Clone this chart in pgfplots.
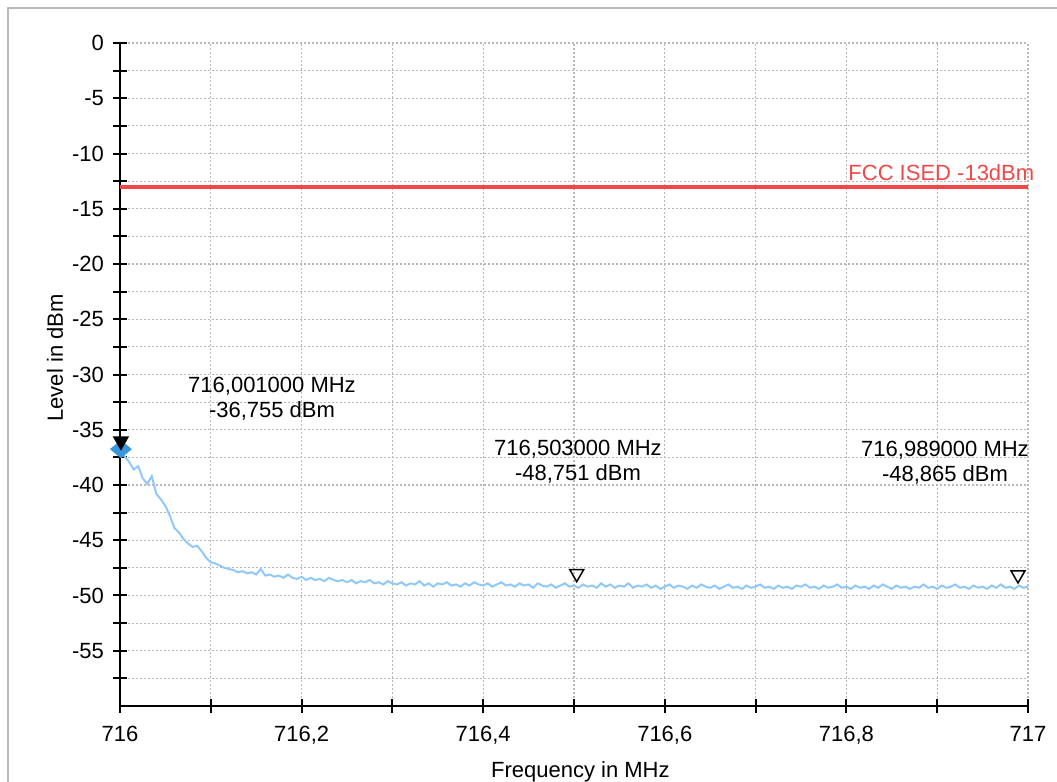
\documentclass[border=0pt]{standalone}
\usepackage{fontspec}
\setmainfont{Liberation Sans}
\usepackage{pgfplots}
\pgfplotsset{compat=1.18}
\usepackage{pgfplotstable}
\definecolor{trace}{RGB}{145,200,250}
\definecolor{limitred}{RGB}{240,72,72}
\definecolor{mkblue}{RGB}{55,150,220}
\definecolor{gridgray}{RGB}{185,185,185}
\definecolor{framegray}{RGB}{185,185,185}
\pgfdeclareplotmark{dtri}{%
  \pgfpathmoveto{\pgfqpoint{0pt}{0pt}}%
  \pgfpathlineto{\pgfqpoint{-0.866\pgfplotmarksize}{1.5\pgfplotmarksize}}%
  \pgfpathlineto{\pgfqpoint{0.866\pgfplotmarksize}{1.5\pgfplotmarksize}}%
  \pgfpathclose\pgfusepathqstroke}
\pgfdeclareplotmark{dtrif}{%
  \pgfpathmoveto{\pgfqpoint{0pt}{0pt}}%
  \pgfpathlineto{\pgfqpoint{-0.866\pgfplotmarksize}{1.5\pgfplotmarksize}}%
  \pgfpathlineto{\pgfqpoint{0.866\pgfplotmarksize}{1.5\pgfplotmarksize}}%
  \pgfpathclose\pgfusepathqfillstroke}
\pgfdeclareplotmark{bdia}{%
  \pgfpathmoveto{\pgfqpoint{0pt}{0.82\pgfplotmarksize}}%
  \pgfpathlineto{\pgfqpoint{\pgfplotmarksize}{0pt}}%
  \pgfpathlineto{\pgfqpoint{0pt}{-0.82\pgfplotmarksize}}%
  \pgfpathlineto{\pgfqpoint{-\pgfplotmarksize}{0pt}}%
  \pgfpathclose\pgfusepathqfill}
\pgfplotstableread{
x y
716.000 -36.8
716.005 -37.4
716.010 -37.9
716.015 -38.6
716.020 -38.3
716.025 -39.4
716.030 -39.9
716.035 -39.2
716.040 -40.8
716.045 -41.3
716.050 -41.9
716.055 -42.8
716.060 -43.9
716.065 -44.3
716.070 -44.9
716.075 -45.3
716.080 -45.6
716.085 -45.5
716.090 -46.0
716.095 -46.6
716.100 -47.0
716.105 -47.1
716.110 -47.3
716.115 -47.5
716.120 -47.6
716.125 -47.7
716.130 -47.9
716.135 -47.8
716.140 -48.0
716.145 -47.9
716.150 -48.1
716.155 -47.6
716.160 -48.2
716.165 -48.1
716.170 -48.3
716.175 -48.2
716.180 -48.4
716.185 -48.1
716.190 -48.4
716.195 -48.5
716.200 -48.3
716.205 -48.6
716.210 -48.4
716.215 -48.6
716.220 -48.5
716.225 -48.7
716.230 -48.4
716.235 -48.6
716.240 -48.7
716.245 -48.6
716.250 -48.8
716.255 -48.6
716.260 -48.9
716.265 -48.7
716.270 -48.8
716.275 -48.6
716.280 -48.9
716.285 -48.8
716.290 -49.0
716.295 -48.7
716.300 -48.9
716.305 -49.0
716.310 -48.8
716.315 -49.1
716.320 -48.9
716.325 -49.0
716.330 -48.7
716.335 -49.1
716.340 -48.9
716.345 -49.2
716.350 -48.9
716.355 -49.0
716.360 -48.8
716.365 -49.1
716.370 -49.0
716.375 -49.2
716.380 -48.9
716.385 -49.1
716.390 -48.8
716.395 -49.0
716.400 -49.1
716.405 -48.9
716.410 -49.2
716.415 -49.0
716.420 -48.8
716.425 -49.1
716.430 -49.0
716.435 -49.2
716.440 -48.9
716.445 -49.1
716.450 -49.0
716.455 -49.3
716.460 -48.9
716.465 -49.1
716.470 -49.2
716.475 -49.0
716.480 -49.3
716.485 -49.1
716.490 -48.9
716.495 -49.2
716.500 -49.1
716.505 -49.3
716.510 -49.0
716.515 -49.2
716.520 -49.1
716.525 -49.3
716.530 -48.9
716.535 -49.2
716.540 -49.0
716.545 -49.3
716.550 -49.1
716.555 -49.2
716.560 -48.9
716.565 -49.3
716.570 -49.1
716.575 -49.2
716.580 -49.0
716.585 -49.3
716.590 -49.1
716.595 -49.4
716.600 -49.2
716.605 -49.0
716.610 -49.3
716.615 -49.1
716.620 -49.2
716.625 -49.4
716.630 -49.1
716.635 -49.3
716.640 -49.0
716.645 -49.2
716.650 -49.3
716.655 -49.1
716.660 -49.4
716.665 -49.2
716.670 -49.0
716.675 -49.3
716.680 -49.2
716.685 -49.4
716.690 -49.1
716.695 -49.3
716.700 -49.2
716.705 -49.0
716.710 -49.3
716.715 -49.2
716.720 -49.4
716.725 -49.1
716.730 -49.3
716.735 -49.2
716.740 -49.4
716.745 -49.1
716.750 -49.2
716.755 -49.0
716.760 -49.3
716.765 -49.2
716.770 -49.4
716.775 -49.1
716.780 -49.3
716.785 -49.2
716.790 -49.0
716.795 -49.3
716.800 -49.2
716.805 -49.4
716.810 -49.1
716.815 -49.3
716.820 -49.2
716.825 -49.4
716.830 -49.1
716.835 -49.3
716.840 -49.0
716.845 -49.2
716.850 -49.4
716.855 -49.1
716.860 -49.3
716.865 -49.2
716.870 -49.4
716.875 -49.2
716.880 -49.3
716.885 -49.0
716.890 -49.3
716.895 -49.2
716.900 -49.4
716.905 -49.1
716.910 -49.3
716.915 -49.2
716.920 -49.0
716.925 -49.3
716.930 -49.2
716.935 -49.4
716.940 -49.1
716.945 -49.3
716.950 -49.2
716.955 -49.4
716.960 -49.1
716.965 -49.3
716.970 -49.0
716.975 -49.3
716.980 -49.2
716.985 -49.4
716.990 -49.1
716.995 -49.3
717.000 -49.2
}\tracedata
\begin{document}
\begin{tikzpicture}[font=\fontsize{11}{12.5}\selectfont]
\clip (-60pt,-38pt) rectangle (468.5pt,353pt);
\draw[framegray, line width=1pt] (-56pt,-60pt) -- (-56pt,349pt) -- (480pt,349pt);
\begin{axis}[
  at={(0,0)}, anchor=south west,
  scale only axis, width=454pt, height=331.5pt,
  xmin=716, xmax=717, ymin=-60, ymax=0,
  axis x line=bottom, axis y line=left,
  axis line style={-, line width=1pt, black},
  xtick={716,716.2,716.4,716.6,716.8,717},
  minor xtick={716.1,716.3,716.5,716.7,716.9},
  ytick={-55,-50,-45,-40,-35,-30,-25,-20,-15,-10,-5,0},
  minor ytick={-57.5,-52.5,-47.5,-42.5,-37.5,-32.5,-27.5,-22.5,-17.5,-12.5,-7.5,-2.5},
  tick align=center,
  major tick length=7pt, minor tick length=7pt,
  every tick/.style={black, line width=1pt},
  grid=both,
  major grid style={gridgray, line width=0.6pt, dash pattern=on 1pt off 1pt},
  minor grid style={gridgray, line width=0.6pt, dash pattern=on 1pt off 1pt},
  /pgf/number format/assume math mode=true,
  /pgf/number format/use comma,
  /pgf/number format/1000 sep={},
  xticklabel style={anchor=north, yshift=-3pt},
  yticklabel style={anchor=east, xshift=-1pt},
  xlabel={Frequency in MHz},
  ylabel={Level in dBm},
  xlabel style={at={(axis description cs:0.507,-0.1086)}, anchor=base},
  ylabel style={at={(axis description cs:-0.0716,0.525)}, anchor=center},
  clip=false,
]
\addplot[trace, line width=1pt] table[x=x,y=y] {\tracedata};
\addplot[limitred, line width=2pt] coordinates {(716,-13) (717,-13)};
\addplot[only marks, mark=bdia, mark size=5.5pt, mkblue] coordinates {(716.001,-36.755)};
\addplot[only marks, mark=dtrif, mark size=4pt, draw=black, fill=black, line width=0.75pt] coordinates {(716.001,-36.755)};
\addplot[only marks, mark=dtri, mark size=4pt, black, line width=0.75pt] coordinates {(716.503,-48.751) (716.989,-48.865)};
\node[limitred, anchor=west, inner sep=0pt] at (axis cs:716.8018,-11.76) {FCC ISED -13dBm};
\node[align=center, inner sep=0pt] at (axis cs:716.1674,-32.22) {716,001000 MHz\\-36,755 dBm};
\node[align=center, inner sep=0pt] at (axis cs:716.5044,-37.92) {716,503000 MHz\\-48,751 dBm};
\node[align=center, inner sep=0pt] at (axis cs:716.9086,-38.0) {716,989000 MHz\\-48,865 dBm};
\end{axis}
\end{tikzpicture}
\end{document}
